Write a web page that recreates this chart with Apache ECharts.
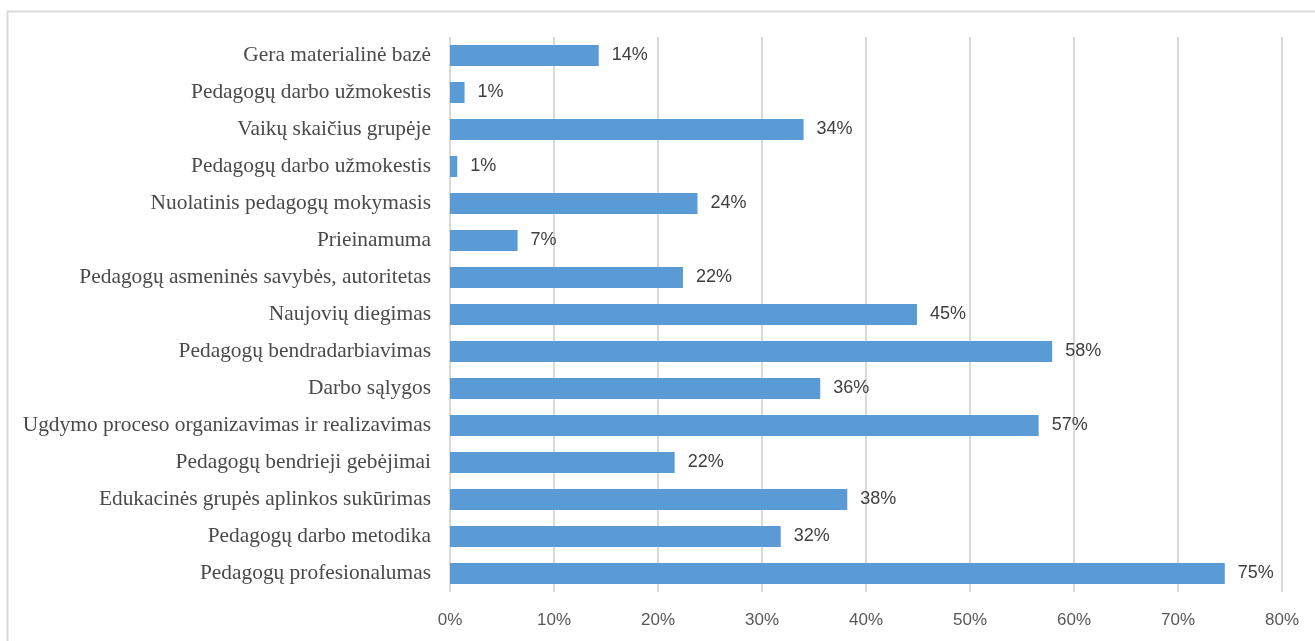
<!DOCTYPE html>
<html>
<head>
<meta charset="utf-8">
<script src="https://cdn.jsdelivr.net/npm/echarts@6/dist/echarts.min.js"></script>
<style>
html,body{margin:0;padding:0;background:#fff;}
#c{width:1315px;height:641px;}
</style>
</head>
<body>
<div id="c"></div>
<script>
const categories = [
  "Gera materialinė bazė",
  "Pedagogų darbo užmokestis",
  "Vaikų skaičius grupėje",
  "Pedagogų darbo užmokestis ",
  "Nuolatinis pedagogų mokymasis",
  "Prieinamuma",
  "Pedagogų asmeninės savybės, autoritetas",
  "Naujovių diegimas",
  "Pedagogų bendradarbiavimas",
  "Darbo sąlygos",
  "Ugdymo proceso organizavimas ir realizavimas",
  "Pedagogų bendrieji gebėjimai",
  "Edukacinės grupės aplinkos sukūrimas",
  "Pedagogų darbo metodika",
  "Pedagogų profesionalumas"
];
const values = [14.3, 1.4, 34.0, 0.7, 23.8, 6.5, 22.4, 44.9, 57.9, 35.6, 56.6, 21.6, 38.2, 31.8, 74.5];
const xTicks = [0, 10, 20, 30, 40, 50, 60, 70, 80];

const chart = echarts.init(document.getElementById('c'), null, {renderer: 'canvas'});
chart.setOption({
  animation: false,
  backgroundColor: '#ffffff',
  graphic: [{
    type: 'rect',
    shape: {x: 7.5, y: 11.5, width: 1320, height: 640},
    style: {fill: 'none', stroke: '#d9d9d9', lineWidth: 2}
  }],
  grid: {left: 450, right: 33, top: 37, bottom: 49, containLabel: false},
  xAxis: {
    type: 'value',
    min: xTicks[0],
    max: xTicks[xTicks.length - 1],
    interval: 10,
    axisLine: {show: false},
    axisTick: {show: false},
    splitLine: {show: true, lineStyle: {color: '#d9d9d9', width: 2}},
    axisLabel: {
      formatter: v => v + '%',
      color: '#595959',
      fontFamily: 'Liberation Sans',
      fontSize: 17,
      margin: 20
    }
  },
  yAxis: {
    type: 'category',
    data: categories,
    inverse: true,
    axisLine: {show: false},
    axisTick: {show: false},
    splitLine: {show: false},
    axisLabel: {
      color: '#4a4a4a',
      fontFamily: 'Liberation Serif',
      fontSize: 21.4,
      margin: 19,
      formatter: v => v.trim()
    }
  },
  series: [{
    type: 'bar',
    data: values,
    barWidth: 21,
    itemStyle: {color: '#5b9bd5'},
    label: {
      show: true,
      position: 'right',
      distance: 13,
      formatter: p => Math.round(p.value) + '%',
      color: '#404040',
      fontFamily: 'Liberation Sans',
      fontSize: 18
    }
  }]
});
</script>
</body>
</html>
